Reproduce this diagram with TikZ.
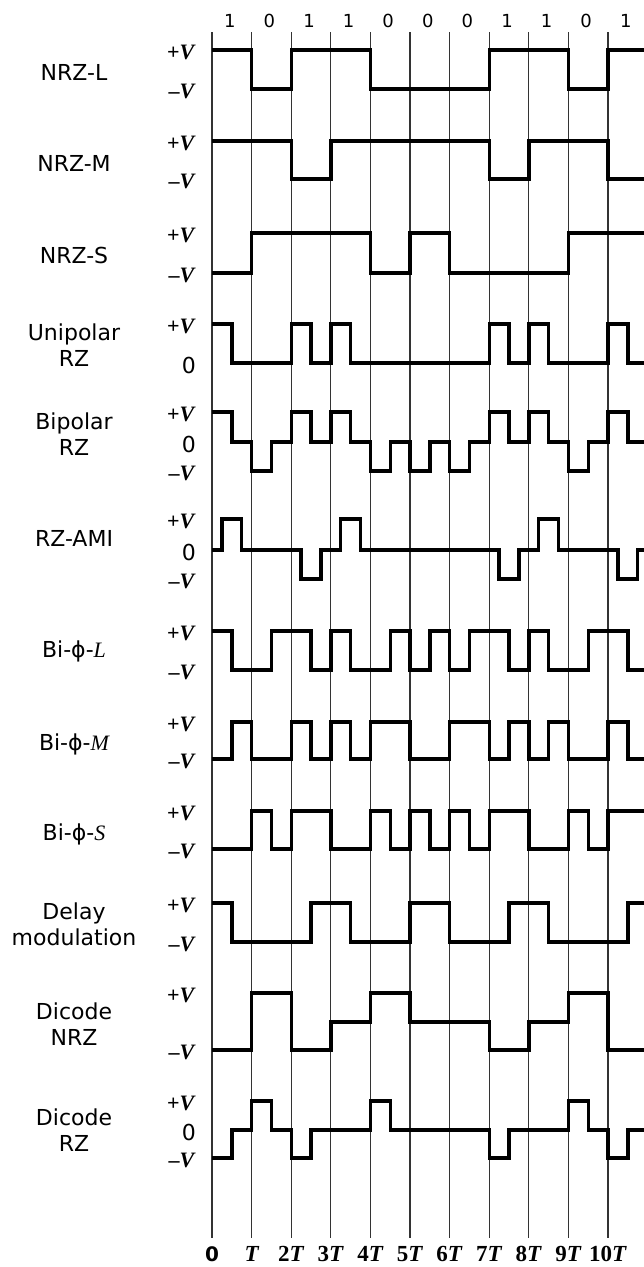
\documentclass[tikz,border=0pt]{standalone}
\usepackage{fontspec}
\setmainfont{DejaVu Sans}
\newfontfamily\valfont{Liberation Serif}

\newcommand{\pv}{{\valfont\bfseries +\textit{V}}}
\newcommand{\mv}{{\valfont\bfseries –\textit{V}}}
\newcommand{\nT}[1]{{\valfont\bfseries #1\textit{T}}}

\begin{document}
\begin{tikzpicture}[x=1pt, y=-1pt,
    wave/.style={line width=3.4pt, line join=miter},
    clock/.style={line width=1.1pt, black!80},
    code/.style={font=\fontsize{22}{26}\selectfont, align=center, inner sep=0pt, anchor=base},
    lvl/.style={anchor=east, inner sep=0pt, font=\fontsize{22}{24}\selectfont},
    bit/.style={font=\fontsize{18}{21}\selectfont, inner sep=0pt, anchor=base},
    tick/.style={font=\fontsize{23}{26}\selectfont, inner sep=0pt, anchor=base}]

    \useasboundingbox (0,0) rectangle (643,1267);

    % Bit intervals
    \foreach \i in {0,...,10} {
        \coordinate (top\i) at ({212+39.6*\i},32);
        \coordinate (foot\i) at ({212+39.6*\i},1238);
        \draw[clock] (top\i) -- (foot\i);
    }

    % Data bits
    \foreach \b [count=\i from 0] in {1,0,1,1,0,0,0,1,1,0,1}
        \node[bit] (bit\i) at ({212+39.6*(\i+0.5)-2},27.5) {\b};

    % Time axis
    \node[tick] (t0) at (212,1261) {\fontsize{20}{24}\selectfont\bfseries 0};
    \node[tick] (t1) at (251.6,1261) {\valfont\bfseries\itshape T};
    \foreach \k in {2,...,10}
        \node[tick] (t\k) at ({212+39.6*\k},1261) {\nT{\k}};

    % Code names
    \node[code] (nrzl) at (74,80.7) {NRZ-L};
    \node[code] (nrzm) at (74,171.7) {NRZ-M};
    \node[code] (nrzs) at (74,263) {NRZ-S};
    \node[code] (unirz) at (74,366.7) {Unipolar\\RZ};
    \node[code] (biprz) at (74,455) {Bipolar\\RZ};
    \node[code] (rzami) at (74,546.7) {RZ-AMI};
    \node[code] (biphl) at (74,657) {Bi-ϕ-{\valfont\itshape L}};
    \node[code] (biphm) at (74,750) {Bi-ϕ-{\valfont\itshape M}};
    \node[code] (biphs) at (74,840) {Bi-ϕ-{\valfont\itshape S}};
    \node[code] (delay) at (74,945) {Delay\\modulation};
    \node[code] (dinrz) at (74,1045) {Dicode\\NRZ};
    \node[code] (dirz) at (74,1151.7) {Dicode\\RZ};

    % Levels
    \node[lvl] (nrzl-hi) at (196,52.5) {\pv};
    \node[lvl] (nrzl-lo) at (196,91.8) {\mv};
    \node[lvl] (nrzm-hi) at (196,143.2) {\pv};
    \node[lvl] (nrzm-lo) at (196,181.8) {\mv};
    \node[lvl] (nrzs-hi) at (196,235.8) {\pv};
    \node[lvl] (nrzs-lo) at (196,275.2) {\mv};
    \node[lvl] (unirz-hi) at (196,326.5) {\pv};
    \node[lvl] (unirz-zero) at (196,365.8) {0};
    \node[lvl] (biprz-hi) at (196,414.2) {\pv};
    \node[lvl] (biprz-zero) at (196,444.2) {0};
    \node[lvl] (biprz-lo) at (196,473.2) {\mv};
    \node[lvl] (rzami-hi) at (196,521.5) {\pv};
    \node[lvl] (rzami-zero) at (196,552.5) {0};
    \node[lvl] (rzami-lo) at (196,581.5) {\mv};
    \node[lvl] (biphl-hi) at (196,633.5) {\pv};
    \node[lvl] (biphl-lo) at (196,672.5) {\mv};
    \node[lvl] (biphm-hi) at (196,724.2) {\pv};
    \node[lvl] (biphm-lo) at (196,761.5) {\mv};
    \node[lvl] (biphs-hi) at (196,813.2) {\pv};
    \node[lvl] (biphs-lo) at (196,851.8) {\mv};
    \node[lvl] (delay-hi) at (196,905.8) {\pv};
    \node[lvl] (delay-lo) at (196,944.2) {\mv};
    \node[lvl] (dinrz-hi) at (196,995.8) {\pv};
    \node[lvl] (dinrz-lo) at (196,1052.5) {\mv};
    \node[lvl] (dirz-hi) at (196,1103.2) {\pv};
    \node[lvl] (dirz-zero) at (196,1132.5) {0};
    \node[lvl] (dirz-lo) at (196,1160.8) {\mv};

    % Waveforms, x in bit times
    \begin{scope}[xshift=212pt, x=39.6pt]
        % NRZ-L
        \draw[wave] (0,50) -| (1,89) -| (2,50) -| (4,89) -| (7,50) -| (9,89) -| (10,50) -- (10.9,50);
        % NRZ-M
        \draw[wave] (0,141) -| (2,179) -| (3,141) -| (7,179) -| (8,141) -| (10,179) -- (10.9,179);
        % NRZ-S
        \draw[wave] (0,273) -| (1,233) -| (4,273) -| (5,233) -| (6,273) -| (9,233) -- (10.9,233);
        % Unipolar RZ
        \draw[wave] (0,324) -| (0.5,363) -| (2,324) -| (2.5,363) -| (3,324) -| (3.5,363)
            -| (7,324) -| (7.5,363) -| (8,324) -| (8.5,363) -| (10,324) -| (10.5,363) -- (10.9,363);
        % Bipolar RZ
        \draw[wave] (0,412) -| (0.5,442) -| (1,471) -| (1.5,442) -| (2,412) -| (2.5,442)
            -| (3,412) -| (3.5,442) -| (4,471) -| (4.5,442) -| (5,471) -| (5.5,442)
            -| (6,471) -| (6.5,442) -| (7,412) -| (7.5,442) -| (8,412) -| (8.5,442)
            -| (9,471) -| (9.5,442) -| (10,412) -| (10.5,442) -- (10.9,442);
        % RZ-AMI
        \draw[wave] (0,550) -| (0.25,519) -| (0.75,550) -| (2.25,579) -| (2.75,550)
            -| (3.25,519) -| (3.75,550) -| (7.25,579) -| (7.75,550) -| (8.25,519)
            -| (8.75,550) -| (10.25,579) -| (10.75,550) -- (10.9,550);
        % Bi-phi-L
        \draw[wave] (0,631) -| (0.5,670) -| (1.5,631) -| (2.5,670) -| (3,631) -| (3.5,670)
            -| (4.5,631) -| (5,670) -| (5.5,631) -| (6,670) -| (6.5,631) -| (7.5,670)
            -| (8,631) -| (8.5,670) -| (9.5,631) -| (10.5,670) -- (10.9,670);
        % Bi-phi-M
        \draw[wave] (0,759) -| (0.5,722) -| (1,759) -| (2,722) -| (2.5,759) -| (3,722)
            -| (3.5,759) -| (4,722) -| (5,759) -| (6,722) -| (7,759) -| (7.5,722)
            -| (8,759) -| (8.5,722) -| (9,759) -| (10,722) -| (10.5,759) -- (10.9,759);
        % Bi-phi-S
        \draw[wave] (0,849) -| (1,811) -| (1.5,849) -| (2,811) -| (3,849) -| (4,811)
            -| (4.5,849) -| (5,811) -| (5.5,849) -| (6,811) -| (6.5,849) -| (7,811)
            -| (8,849) -| (9,811) -| (9.5,849) -| (10,811) -- (10.9,811);
        % Delay modulation
        \draw[wave] (0,903) -| (0.5,942) -| (2.5,903) -| (3.5,942) -| (5,903) -| (6,942)
            -| (7.5,903) -| (8.5,942) -| (10.5,903) -- (10.9,903);
        % Dicode NRZ
        \draw[wave] (0,1050) -| (1,993) -| (2,1050) -| (3,1022) -| (4,993) -| (5,1022)
            -| (7,1050) -| (8,1022) -| (9,993) -| (10,1050) -- (10.9,1050);
        % Dicode RZ
        \draw[wave] (0,1158) -| (0.5,1130) -| (1,1101) -| (1.5,1130) -| (2,1158) -| (2.5,1130)
            -| (4,1101) -| (4.5,1130) -| (7,1158) -| (7.5,1130) -| (9,1101) -| (9.5,1130)
            -| (10,1158) -| (10.5,1130) -- (10.9,1130);
    \end{scope}

\end{tikzpicture}
\end{document}
